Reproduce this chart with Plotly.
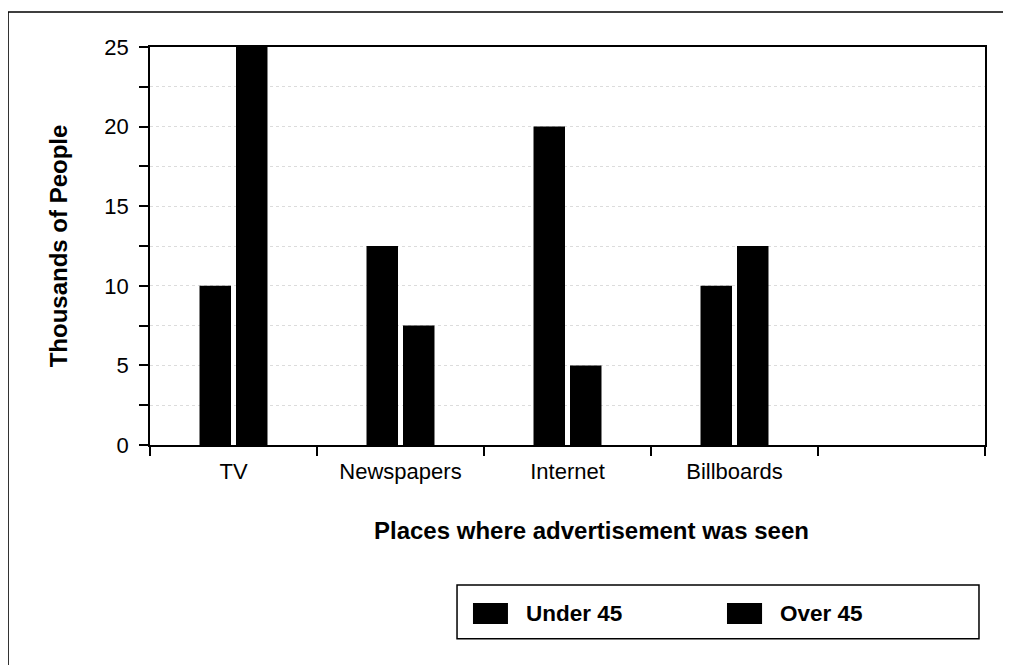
"""
広告を見た場所別の人数（年齢層別）棒グラフ
"""

import plotly.graph_objects as go

# データ
places = ["TV", "Newspapers", "Internet", "Billboards", " "]
under_45 = [10, 12.5, 20, 10, None]
over_45 = [25, 7.5, 5, 12.5, None]
series_names = ["Under 45", "Over 45"]

FONT = "Liberation Sans, Arial, sans-serif"

fig = go.Figure()

for name, values in zip(series_names, [under_45, over_45]):
    fig.add_trace(
        go.Bar(
            x=places,
            y=values,
            name=name,
            marker={"color": "#000000", "line": {"width": 0}},
            showlegend=False,
        )
    )

# ページ本体の 8px マージンを考慮してサイズを調整
fig.update_layout(
    width=1003,
    height=657,
    margin={"l": 142, "r": 26, "t": 39, "b": 220, "pad": 0},
    plot_bgcolor="#ffffff",
    paper_bgcolor="#ffffff",
    barmode="group",
    bargap=0.563,
    bargroupgap=0.137,
    font={"family": FONT, "size": 22, "color": "#000000"},
)

fig.update_xaxes(
    type="category",
    categoryorder="array",
    categoryarray=places,
    range=[-0.5, 4.5],
    tickson="boundaries",
    ticks="outside",
    ticklen=9,
    tickwidth=1.5,
    tickcolor="#000000",
    ticklabelstandoff=6,
    showline=True,
    linecolor="#000000",
    linewidth=1.5,
    mirror=True,
    showgrid=False,
    tickfont={"size": 22},
)

fig.update_yaxes(
    range=[0, 25],
    dtick=5,
    ticks="outside",
    ticklen=9,
    tickwidth=1.5,
    tickcolor="#000000",
    ticklabelstandoff=6,
    showline=True,
    linecolor="#000000",
    linewidth=1.5,
    mirror=True,
    showgrid=True,
    gridcolor="#dcdcdc",
    griddash="dot",
    gridwidth=1,
    zeroline=False,
    minor={
        "dtick": 2.5,
        "ticks": "outside",
        "ticklen": 9,
        "tickwidth": 1.5,
        "tickcolor": "#000000",
        "showgrid": True,
        "gridcolor": "#dcdcdc",
        "griddash": "dot",
    },
    tickfont={"size": 22},
    title={
        "text": "<b>Thousands of People</b>",
        "font": {"size": 24},
        "standoff": 30,
    },
)

# x軸タイトル（少し右寄り）
fig.add_annotation(
    x=0.529,
    y=-0.216,
    xref="paper",
    yref="paper",
    xanchor="center",
    yanchor="middle",
    text="<b>Places where advertisement was seen</b>",
    showarrow=False,
    font={"size": 24, "color": "#000000"},
)

# 外枠
fig.add_shape(
    type="rect",
    xref="paper",
    yref="paper",
    x0=-0.170,
    x1=1.2,
    y0=-0.7,
    y1=1.088,
    line={"color": "#000000", "width": 1.5},
    fillcolor="rgba(0,0,0,0)",
    layer="below",
)

# 凡例（手描き）
fig.add_shape(
    type="rect",
    xref="paper",
    yref="paper",
    x0=0.3677,
    x1=0.9928,
    y0=-0.487,
    y1=-0.352,
    line={"color": "#000000", "width": 1.5},
    fillcolor="#ffffff",
)

legend_swatch_x = [(0.3868, 0.4287), (0.691, 0.733)]
legend_text_x = [0.448, 0.752]
for name, (sx0, sx1), tx in zip(series_names, legend_swatch_x, legend_text_x):
    fig.add_shape(
        type="rect",
        xref="paper",
        yref="paper",
        x0=sx0,
        x1=sx1,
        y0=-0.450,
        y1=-0.397,
        line={"width": 0},
        fillcolor="#000000",
    )
    fig.add_annotation(
        x=tx,
        y=-0.4235,
        xref="paper",
        yref="paper",
        xanchor="left",
        yanchor="middle",
        text=f"<b>{name}</b>",
        showarrow=False,
        font={"size": 22.5, "color": "#000000"},
    )

fig.write_html("out.html")
